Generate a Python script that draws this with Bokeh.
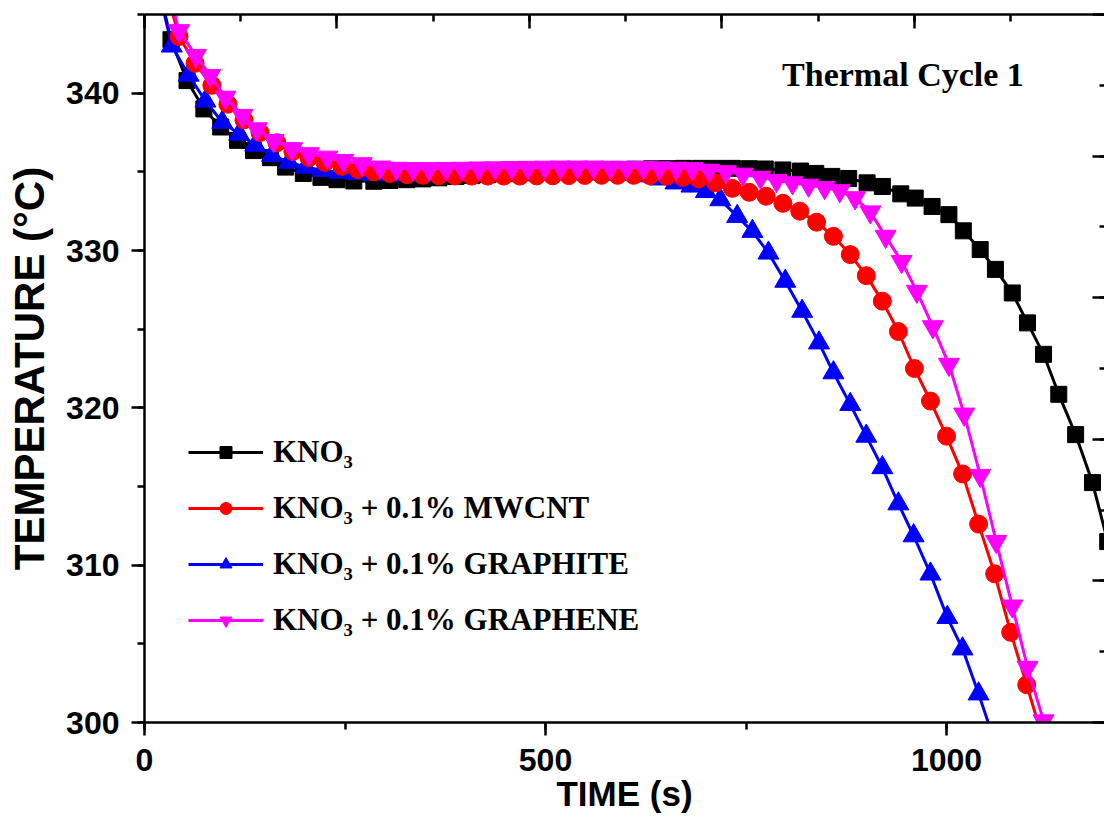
from bokeh.plotting import figure
from bokeh.models import (Range1d, LinearAxis, SingleIntervalTicker, Legend,
                          LegendItem, Label, CustomJSTickFormatter)
from bokeh.embed import file_html
from bokeh.resources import INLINE

# ---- cooling curves, thermal cycle 1: time (s) vs temperature (degC) ----
kno3_t = [12, 33, 53, 74, 95, 116, 136, 157, 176, 198, 220, 240, 261, 286, 306,
          327, 347, 367, 388, 408, 428, 449, 469, 489, 510, 530, 550, 571, 591,
          611, 632, 652, 672, 693, 713, 733, 754, 774, 796, 818, 837, 857, 878,
          901, 920, 943, 961, 982, 1003, 1021, 1042, 1061, 1082, 1101, 1121,
          1140, 1161, 1182, 1201]
kno3_T = [348.0, 343.4, 340.8, 339.0, 337.85, 337.0, 336.35, 335.9, 335.3, 334.9,
          334.65, 334.5, 334.42, 334.4, 334.45, 334.5, 334.55, 334.62, 334.7,
          334.76, 334.82, 334.88, 334.93, 334.98, 335.02, 335.06, 335.1, 335.12,
          335.15, 335.17, 335.19, 335.2, 335.22, 335.22, 335.22, 335.22, 335.2,
          335.18, 335.12, 335.05, 334.9, 334.71, 334.58, 334.3, 334.07, 333.6,
          333.33, 332.8, 332.28, 331.25, 330.06, 328.8, 327.3, 325.4, 323.4,
          320.86, 318.3, 315.25, 311.5]

mwcnt_t = [22, 43, 63, 84, 104, 124, 144, 165, 185, 205, 225, 246, 266, 286, 306,
           327, 347, 367, 387, 408, 428, 448, 468, 489, 509, 529, 549, 570, 590,
           610, 630, 651, 671, 691, 712, 733, 754, 775, 796, 817, 838, 859, 880,
           900, 920, 940, 960, 980, 1000, 1020, 1040, 1060, 1080, 1100, 1121]
mwcnt_T = [347.5, 343.6, 341.9, 340.5, 339.3, 338.3, 337.5, 336.85, 336.3, 335.9,
           335.6, 335.35, 335.15, 335.0, 334.9, 334.82, 334.78, 334.75, 334.74,
           334.73, 334.73, 334.73, 334.73, 334.74, 334.75, 334.76, 334.77, 334.78,
           334.78, 334.78, 334.76, 334.72, 334.65, 334.55, 334.3, 333.95, 333.7,
           333.45, 333.0, 332.5, 331.8, 330.9, 329.74, 328.4, 326.78, 324.85,
           322.5, 320.43, 318.2, 315.8, 312.61, 309.45, 305.73, 302.4, 298.8]

graphite_t = [13, 34, 55, 76, 97, 118, 138, 159, 180, 201, 222, 243, 264, 285,
              306, 327, 348, 369, 390, 411, 432, 453, 474, 495, 516, 537, 558,
              579, 600, 621, 642, 662, 682, 700, 718, 739, 758, 778, 799, 820,
              841, 859, 880, 900, 920, 940, 959, 980, 1001, 1020, 1040, 1060]
graphite_T = [347.6, 343.0, 341.15, 339.5, 338.15, 337.4, 336.7, 336.05, 335.62,
              335.3, 335.1, 334.98, 334.9, 334.85, 334.82, 334.8, 334.8, 334.8,
              334.82, 334.84, 334.85, 334.86, 334.87, 334.88, 334.88, 334.88,
              334.87, 334.86, 334.84, 334.75, 334.55, 334.3, 334.1, 333.75,
              333.23, 332.17, 331.22, 329.84, 328.05, 326.14, 324.13, 322.23,
              320.22, 318.2, 316.2, 313.9, 311.87, 309.44, 306.68, 304.68, 301.82,
              298.8]

graphene_t = [22, 43, 64, 82, 101, 122, 140, 161, 184, 205, 228, 248, 271, 294,
              314, 335, 355, 376, 396, 417, 437, 458, 478, 499, 519, 540, 560,
              581, 601, 622, 642, 663, 683, 704, 725, 746, 768, 788, 808, 828,
              848, 867, 886, 905, 924, 944, 963, 983, 1003, 1022, 1042, 1062,
              1082, 1101, 1121, 1141]
graphene_T = [348.0, 343.97, 342.39, 341.12, 339.74, 338.58, 337.73, 336.99,
              336.47, 336.15, 335.93, 335.72, 335.51, 335.3, 335.22, 335.2, 335.2,
              335.21, 335.22, 335.24, 335.25, 335.27, 335.28, 335.29, 335.3, 335.3,
              335.3, 335.29, 335.28, 335.27, 335.25, 335.23, 335.2, 335.1, 335.0,
              334.85, 334.65, 334.45, 334.3, 334.15, 334.0, 333.8, 333.35, 332.45,
              330.9, 329.3, 327.4, 325.15, 322.76, 319.6, 315.7, 311.5, 307.4,
              303.5, 300.1, 296.6]

series = [
    ("KNO₃", kno3_t, kno3_T, "#000000", "square", 16),
    ("KNO₃ + 0.1% MWCNT", mwcnt_t, mwcnt_T, "#ff0000", "circle", 18),
    ("KNO₃ + 0.1% GRAPHITE", graphite_t, graphite_T, "#0000ff", "triangle", 21),
    ("KNO₃ + 0.1% GRAPHENE", graphene_t, graphene_T, "#ff00ff", "inverted_triangle", 21),
]
draw_order = [0, 2, 1, 3]
legend_order = [0, 1, 2, 3]

SANS = "Liberation Sans"
SERIF = "Liberation Serif"

p = figure(width=1104, height=819, output_backend="svg", toolbar_location=None,
           x_range=Range1d(0, 1197), y_range=Range1d(300, 345),
           min_border_left=144, min_border_right=0, min_border_top=14,
           min_border_bottom=97,
           x_axis_label="TIME (s)", y_axis_label="TEMPERATURE (°C)")
p.outline_line_color = None
p.grid.visible = False
p.background_fill_color = "white"
p.border_fill_color = "white"

# bottom / left axes
for ax, interval in ((p.xaxis[0], 500), (p.yaxis[0], 10)):
    ax.ticker = SingleIntervalTicker(interval=interval, num_minor_ticks=2)
    ax.axis_line_width = 2.5
    ax.major_tick_line_width = 2.5
    ax.minor_tick_line_width = 2.5
    ax.major_tick_out = 13
    ax.major_tick_in = 0
    ax.minor_tick_out = 7
    ax.minor_tick_in = 0
    ax.major_label_text_font = SANS
    ax.major_label_text_font_style = "bold"
    ax.major_label_text_font_size = "32px"
    ax.major_label_text_color = "black"
    ax.axis_label_text_font = SANS
    ax.axis_label_text_font_style = "bold"
    ax.axis_label_text_color = "black"

p.xaxis[0].major_label_standoff = 13
p.xaxis[0].axis_label_standoff = 0
p.xaxis[0].axis_label_text_font_size = "35px"
p.yaxis[0].major_label_standoff = 12
p.yaxis[0].axis_label_standoff = 10
p.yaxis[0].axis_label_text_font_size = "42px"

blank = CustomJSTickFormatter(code="return ''")

# top axis: minute marks, no labels
top = LinearAxis(ticker=SingleIntervalTicker(interval=240, num_minor_ticks=2),
                 formatter=blank, axis_line_width=2.5, major_tick_line_width=2.5,
                 minor_tick_line_width=2.5, major_tick_in=14, major_tick_out=0,
                 minor_tick_in=7, minor_tick_out=0, major_label_text_font_size="1px",
                 major_label_standoff=0)
p.add_layout(top, "above")

# right edge: tick marks of the neighbouring panel's scale
p.extra_y_ranges = {"side": Range1d(0, 5)}
side = LinearAxis(y_range_name="side",
                  ticker=SingleIntervalTicker(interval=1, num_minor_ticks=2),
                  formatter=blank, axis_line_color=None, major_tick_line_width=2.5,
                  minor_tick_line_width=2.5, major_tick_in=12, major_tick_out=0,
                  minor_tick_in=5, minor_tick_out=0,
                  major_label_text_font_size="1px", major_label_standoff=0)
p.add_layout(side, "right")

renderers = {}
for i in draw_order:
    name, t, T, color, marker, size = series[i]
    ln = p.line(t, T, line_color=color, line_width=3)
    sc = p.scatter(t, T, marker=marker, size=size, fill_color=color,
                   line_color=color)
    renderers[i] = [ln, sc]

items = [LegendItem(label=series[i][0], renderers=renderers[i]) for i in legend_order]
legend = Legend(items=items, location=(44, 84), padding=0, margin=0,
                border_line_color=None, background_fill_alpha=0,
                glyph_width=75, glyph_height=30, label_height=30, spacing=20,
                label_standoff=10, label_text_font=SERIF,
                label_text_font_style="bold", label_text_font_size="31px",
                label_text_color="black")
p.add_layout(legend)

p.add_layout(Label(x=795, y=341.2, text="Thermal Cycle 1", text_font=SERIF,
                   text_font_style="bold", text_font_size="34px",
                   text_baseline="alphabetic", text_color="black"))

open("out.html", "w").write(file_html(p, INLINE))
